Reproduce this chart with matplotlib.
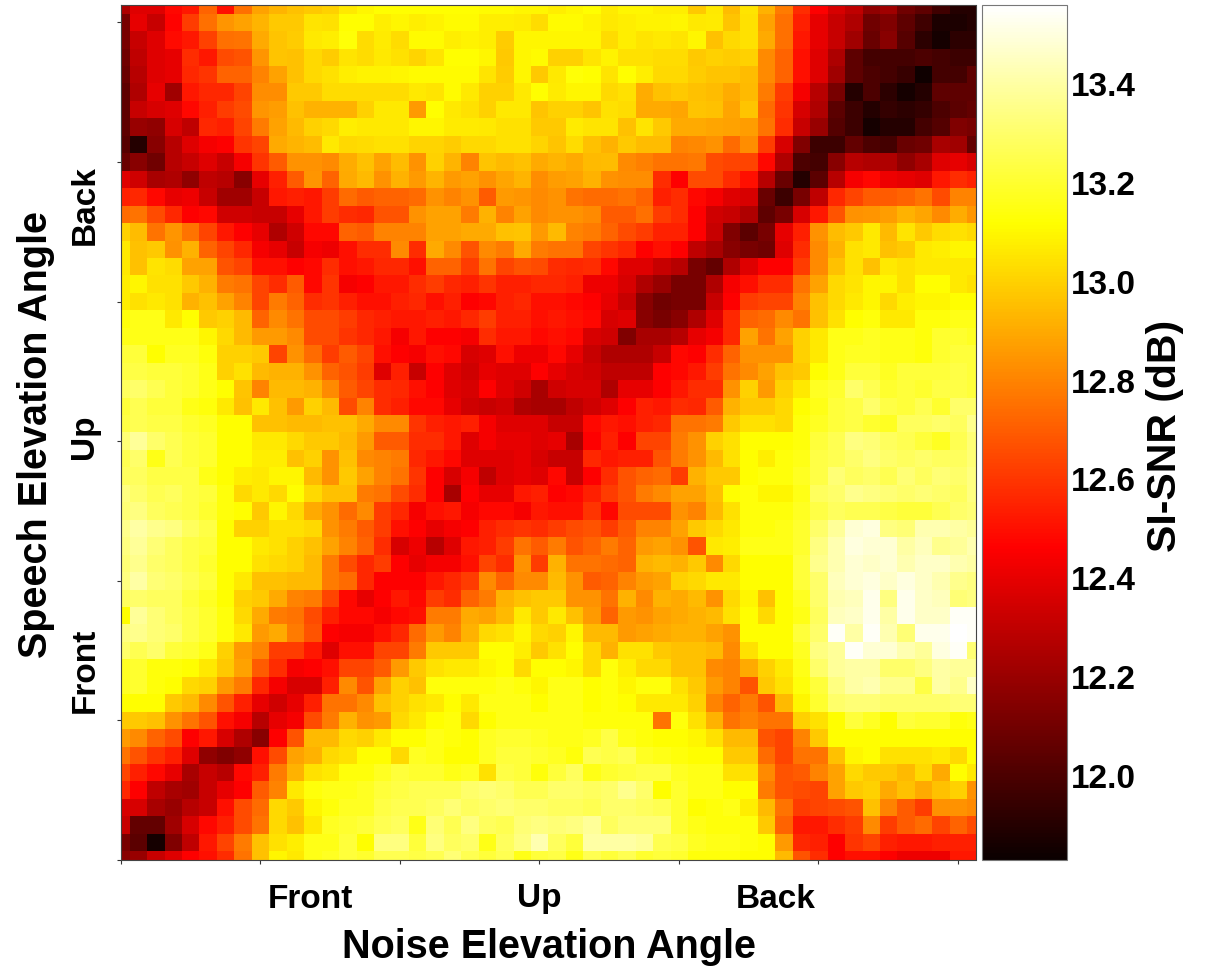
import numpy as np
import matplotlib
matplotlib.use('Agg')
import matplotlib.pyplot as plt

plt.rcParams['font.family'] = ['Liberation Sans', 'DejaVu Sans']
plt.rcParams['font.weight'] = 'bold'

# SI-SNR, in hundredths of a dB above 10 dB. Top row first.
snr_rows = [
    [225,238,238,248,252,272,250,275,288,293,296,298,300,306,310,312,312,312,312,312,312,311,311,310,310, 308,310,312,307,310,310,308,308,298,306,295,305,292,278,258,246,236,230,218,222,210,205,197,190,190],
    [212,240,232,247,262,275,285,288,293,298,298,305,304,312,312,308,310,308,309,311,311,308,308,307,303, 311,311,309,306,308,309,309,310,306,307,297,304,288,275,254,240,232,226,210,214,205,197,188,188,190],
    [212,232,238,249,252,263,275,276,290,297,299,306,308,313,303,307,303,311,311,308,309,308,299,310,310, 310,310,310,303,308,305,306,305,310,296,302,304,290,275,252,240,232,222,208,216,203,192,186,192,192],
    [210,230,238,240,258,252,266,268,285,297,296,302,299,305,303,306,304,301,305,312,312,310,298,310,311, 300,300,305,309,304,304,303,303,298,300,299,300,282,272,250,238,225,205,198,198,198,200,198,196,196],
    [208,228,238,240,256,260,272,272,280,288,296,302,304,308,309,309,310,311,311,311,311,305,299,310,298, 306,313,312,305,312,308,302,302,299,297,297,295,282,272,250,238,222,205,200,198,195,185,198,198,205],
    [205,226,240,222,252,256,256,264,283,283,298,298,303,303,303,303,303,306,305,311,306,300,300,306,312, 307,310,310,302,304,291,296,298,296,295,291,294,278,262,244,228,212,190,200,192,186,190,205,205,205],
    [205,232,236,238,248,254,262,266,285,287,296,292,292,292,300,306,306,286,312,306,304,300,306,306,297, 300,300,297,304,303,290,290,289,297,296,289,297,274,260,236,226,204,196,190,194,192,194,200,204,206],
    [205,220,218,236,230,256,254,264,278,288,294,300,302,308,306,306,306,310,310,307,307,306,304,304,298, 298,307,305,305,296,305,298,290,290,289,288,287,276,258,232,220,202,196,186,190,190,198,202,214,212],
    [203,190,216,228,238,244,246,260,264,290,293,295,306,302,303,304,304,301,301,299,302,302,304,304,301, 297,303,296,292,298,295,295,280,281,284,274,283,262,236,214,196,196,206,200,198,208,210,224,222,206],
    [208,216,210,228,232,238,232,244,260,270,284,284,282,291,296,288,295,284,300,293,280,297,294,296,290, 293,290,294,295,282,279,276,276,277,266,264,264,248,226,200,198,216,228,226,226,218,224,238,240,236],
    [238,234,224,226,218,230,228,216,240,254,270,285,272,290,294,284,292,286,293,286,288,284,289,293,283, 287,288,292,284,283,283,258,246,266,266,258,250,228,208,190,204,228,244,248,242,240,238,252,258,255],
    [254,256,248,240,242,232,222,222,232,252,254,252,262,274,270,272,272,274,284,280,284,270,286,285,282, 284,276,274,274,276,272,254,258,248,244,238,236,208,196,212,230,256,264,270,270,272,276,266,280,280],
    [274,276,266,256,246,248,234,234,232,232,240,252,262,258,256,268,268,284,288,288,278,292,280,288,282, 284,284,282,270,270,275,262,258,246,234,232,226,205,212,236,252,268,284,285,287,292,289,282,291,285],
    [300,295,276,285,276,264,252,246,240,226,234,248,248,272,270,280,280,280,288,288,290,290,296,297,286, 294,280,278,272,266,262,255,255,246,232,214,204,212,240,254,284,295,298,306,294,305,298,303,304,302],
    [306,296,298,284,292,272,264,256,244,240,232,244,242,250,258,258,282,258,290,282,268,282,278,290,278, 276,276,264,260,256,246,250,246,230,224,216,212,210,238,258,282,292,304,306,296,298,306,308,310,310],
    [306,296,305,303,288,288,268,264,250,250,246,248,258,250,252,256,256,250,272,272,262,276,264,268,266, 258,256,258,248,238,238,232,228,212,206,226,238,246,246,262,282,296,304,296,306,304,306,306,306,306],
    [308,310,304,304,298,292,278,276,264,258,270,248,260,244,246,252,252,258,262,256,254,260,254,254,256, 256,254,242,242,236,226,220,212,212,226,244,250,258,258,276,288,302,305,310,310,304,312,312,306,304],
    [308,304,306,304,292,296,288,280,264,278,272,258,260,254,250,250,254,256,250,254,246,248,254,256,250, 250,248,246,240,232,216,210,212,212,232,246,262,264,264,280,296,302,306,310,302,308,310,310,312,312],
    [314,316,316,306,312,298,300,294,272,282,276,266,266,262,256,254,252,252,254,252,256,262,254,254,250, 252,250,248,236,238,216,212,216,226,238,256,272,274,282,276,296,304,312,314,306,306,314,314,316,316],
    [316,316,316,316,316,310,302,294,286,286,282,266,266,260,256,252,244,252,246,246,244,258,252,252,248, 250,248,236,234,214,224,224,228,240,244,256,288,276,288,300,306,316,316,318,316,316,314,320,320,318],
    [322,322,312,318,318,314,300,300,298,264,284,274,262,270,264,250,246,244,250,248,236,238,250,242,242, 248,240,232,226,226,226,232,248,246,258,272,284,284,284,300,306,316,318,318,316,316,314,320,322,322],
    [324,324,322,322,320,316,300,304,294,292,292,284,272,268,262,238,254,232,246,238,234,240,238,238,246, 240,236,234,230,230,230,246,248,252,262,276,282,288,296,298,312,316,322,322,318,322,322,322,324,322],
    [328,330,326,322,320,316,312,297,280,294,294,292,282,270,264,258,256,250,246,238,236,246,238,234,224, 234,236,236,226,240,240,246,252,258,258,284,300,286,300,306,318,320,330,326,320,322,320,324,324,322],
    [322,326,322,322,316,314,306,296,306,296,286,300,294,266,280,258,254,248,248,240,234,232,234,226,224, 224,230,234,238,246,254,252,258,256,270,292,298,298,302,312,316,322,324,330,324,322,326,320,330,330],
    [324,326,324,324,320,318,312,312,296,296,294,294,296,296,290,282,282,260,254,252,254,244,238,238,238, 232,232,248,252,250,254,256,276,276,278,298,304,304,302,314,318,322,324,320,318,328,328,330,328,336],
    [332,338,330,326,322,320,312,312,306,306,302,298,298,294,286,270,270,258,258,252,238,244,240,240,238, 240,224,246,254,246,264,264,278,284,300,304,312,312,312,314,322,326,334,332,328,326,322,318,326,332],
    [326,330,316,326,322,320,312,312,308,308,296,300,284,296,282,280,278,256,252,248,238,238,238,240,236, 232,232,256,252,254,254,268,278,284,294,304,312,308,314,316,324,326,330,334,330,328,330,328,328,332],
    [328,328,324,324,324,316,312,308,306,310,310,294,284,298,288,280,276,260,246,236,244,230,238,240,238, 248,232,246,258,268,272,274,262,292,298,298,312,314,314,318,324,332,328,330,326,332,328,332,330,334],
    [334,330,326,328,324,322,314,302,306,302,312,302,296,296,278,276,266,258,246,224,246,240,240,252,254, 246,248,254,262,268,278,282,288,288,296,312,314,310,310,316,328,330,336,334,332,330,332,330,328,334],
    [332,334,328,326,324,320,314,312,298,310,302,290,284,274,282,262,256,244,250,252,244,248,248,244,252, 250,250,260,248,266,266,266,284,280,294,304,314,314,314,318,324,328,326,326,324,322,322,326,330,332],
    [336,340,336,334,328,324,312,300,300,304,304,302,284,278,270,262,250,246,240,244,246,254,258,260,258, 262,266,268,262,270,280,280,288,298,302,306,314,314,316,320,330,338,348,350,334,332,342,342,340,338],
    [334,338,332,328,324,322,312,312,306,304,300,296,288,280,272,258,236,242,228,238,252,254,262,276,270, 278,268,272,278,272,286,288,284,268,306,308,316,316,316,320,334,342,350,348,348,340,344,336,338,342],
    [332,336,330,328,324,320,312,312,304,302,300,294,278,266,256,262,246,240,244,244,250,264,258,284,262, 292,276,276,274,272,292,294,292,298,282,302,312,312,312,322,336,342,348,346,348,342,346,346,342,340],
    [334,340,332,330,326,322,312,306,296,296,294,294,278,274,256,246,246,246,252,256,262,282,272,282,282, 294,284,270,272,280,286,288,300,302,306,306,312,312,312,322,330,344,348,350,346,350,346,342,336,334],
    [328,330,328,328,322,318,312,300,298,290,280,278,264,248,240,246,252,248,262,258,272,278,292,296,298, 298,284,284,276,292,282,292,290,294,284,302,310,296,312,318,330,342,344,352,334,352,346,344,332,334],
    [312,338,332,328,324,320,314,302,290,278,276,266,254,248,248,244,248,250,278,278,290,288,294,306,298, 306,296,286,272,286,284,288,290,292,294,304,312,302,312,316,328,344,346,352,340,352,346,346,354,354],
    [334,336,332,330,324,320,314,306,286,290,278,268,246,244,244,250,256,274,286,280,292,302,304,310,302, 300,310,294,294,286,288,290,292,292,288,284,312,312,312,322,330,354,340,354,342,332,352,352,356,354],
    [330,326,330,322,320,316,300,286,280,262,262,252,238,250,250,264,264,278,298,298,298,312,312,308,298, 304,312,302,292,304,304,298,296,296,294,282,304,312,312,318,334,338,354,348,348,342,338,350,354,332],
    [318,320,314,314,312,306,298,288,270,258,244,246,250,264,264,270,286,298,304,306,306,310,312,302,312, 312,310,302,314,308,302,302,296,296,282,280,290,300,306,316,330,338,340,340,330,330,334,340,338,338],
    [318,320,314,312,302,300,286,278,256,244,236,236,254,282,268,288,300,296,314,314,314,314,316,314,310, 316,316,312,314,310,314,314,304,298,286,280,268,298,304,314,322,334,340,342,336,336,324,340,336,346],
    [312,312,312,298,294,282,268,254,240,234,240,254,276,276,282,296,300,304,306,312,306,316,316,316,312, 316,316,312,314,312,306,306,306,300,280,272,278,268,294,310,320,330,332,332,330,330,330,330,332,332],
    [298,298,296,284,276,268,250,244,228,240,244,266,278,292,284,286,302,306,312,314,302,312,316,316,316, 316,316,314,314,314,314,276,314,304,292,276,280,276,276,300,304,312,322,318,312,322,320,320,314,316],
    [286,282,272,266,246,252,236,226,216,246,268,294,294,302,300,306,312,312,316,314,312,318,320,320,318, 316,316,318,324,316,314,312,312,310,304,294,294,268,264,280,298,312,312,312,312,312,312,312,312,312],
    [276,268,260,254,238,218,214,218,250,266,288,292,302,304,312,312,302,318,316,312,312,318,322,322,320, 318,314,326,324,326,318,316,314,312,312,298,298,274,264,276,276,296,310,312,304,304,304,306,302,312],
    [264,254,248,240,224,232,228,248,254,278,292,304,306,314,314,318,322,320,320,316,318,304,324,322,314, 322,328,316,320,322,324,324,318,316,316,304,304,282,268,270,280,288,302,298,298,294,302,290,312,306],
    [256,246,230,224,222,232,240,246,270,280,306,314,316,316,318,322,324,326,326,326,330,332,330,326,326, 330,330,328,330,336,330,312,320,316,316,312,312,278,268,266,264,288,298,300,290,296,290,296,300,284],
    [236,236,224,220,228,232,250,266,274,302,298,310,314,318,318,324,326,326,328,332,328,330,332,330,330, 328,328,326,330,330,328,326,320,312,314,316,308,294,276,262,264,266,268,296,280,270,262,284,284,282],
    [232,206,206,222,236,248,254,266,276,302,296,306,318,320,322,326,328,316,332,326,334,328,326,332,334, 332,334,338,328,332,332,332,320,316,314,314,314,298,272,252,252,258,262,282,262,270,274,264,272,266],
    [212,204,186,214,230,252,264,278,296,304,308,316,316,322,312,334,334,322,334,328,330,316,328,334,342, 328,322,340,340,340,338,326,324,318,316,316,314,312,286,256,254,246,260,264,254,252,252,254,254,254],
    [216,220,232,238,246,250,258,276,296,310,306,316,318,322,320,326,326,324,326,332,326,322,326,316,322, 324,316,326,322,326,320,322,320,314,314,314,312,312,294,268,258,246,250,250,246,242,242,242,252,252],
]

angle_ticks = [0, 8, 16, 24, 32, 40, 48]
cbar_ticks = [12.0, 12.2, 12.4, 12.6, 12.8, 13.0, 13.2, 13.4]
noise_labels = ['Front', 'Up', 'Back']
speech_labels = ['Front', 'Up', 'Back']
snr_min = 11.83
snr_max = 13.56

snr = 10 + np.array(snr_rows) / 100
assert snr.shape == (50, 50)

W, H = 1212, 969
fig = plt.figure(figsize=(W / 100, H / 100), dpi=100)


def box(x0, y0, x1, y1):
    return [x0 / W, 1 - y1 / H, (x1 - x0) / W, (y1 - y0) / H]


ax = fig.add_axes(box(120.5, 5, 975.5, 860))
im = ax.imshow(snr, cmap='hot', vmin=snr_min, vmax=snr_max, aspect='auto',
               interpolation='nearest', extent=(-0.5, 49.5, -0.5, 49.5))
ax.set_xlim(0, 49)
ax.set_ylim(0, 49)
ax.set_xticks(angle_ticks)
ax.set_yticks(angle_ticks)
ax.set_xticklabels([])
ax.set_yticklabels([])
ax.tick_params(length=3, width=0.8, color='#333333')
for s in ax.spines.values():
    s.set_linewidth(0.8)
    s.set_color('#444444')

# Front / Up / Back sit away from the ticks, so they are placed by hand
for name, px in zip(noise_labels, [310, 539, 776]):
    fig.text(px / W, 1 - 899 / H, name, ha='center', va='center', fontsize=24)
for name, py in zip(speech_labels, [670, 437, 205]):
    fig.text(85 / W, 1 - py / H, name, ha='center', va='center', rotation=90, fontsize=24)
fig.text(548.5 / W, 1 - 947 / H, 'Noise Elevation Angle', ha='center', va='center', fontsize=28.5)
fig.text(36 / W, 1 - 434 / H, 'Speech Elevation Angle', ha='center', va='center',
         rotation=90, fontsize=28.5)

cax = fig.add_axes(box(981.5, 5, 1067, 860))
cb = fig.colorbar(im, cax=cax, ticks=cbar_ticks)
cb.ax.set_yticklabels(['%.1f' % t for t in cbar_ticks], fontsize=24)
cb.ax.tick_params(length=0, pad=3)
cb.outline.set_linewidth(0.8)
cb.outline.set_edgecolor('#777777')
fig.text(1165 / W, 1 - 436 / H, 'SI-SNR (dB)', ha='center', va='center', rotation=90, fontsize=29.5)

fig.savefig('out.png', dpi=100)
